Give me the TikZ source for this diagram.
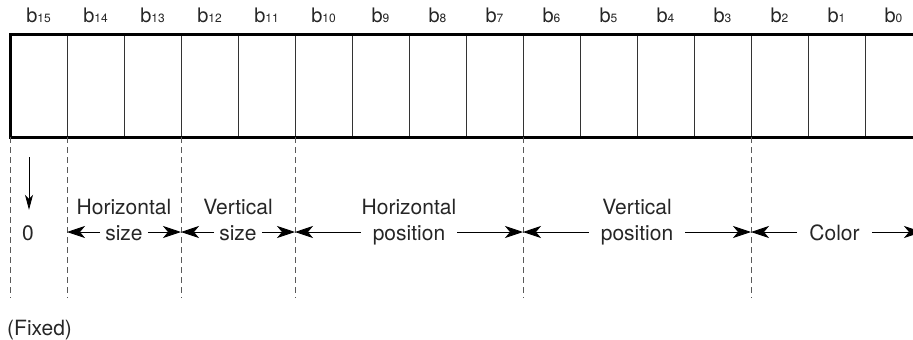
\documentclass[tikz,border=0pt]{standalone}
\usepackage{fontspec}
\setmainfont{TeX Gyre Heros}
\usetikzlibrary{arrows.meta,positioning}

\begin{document}
\begin{tikzpicture}[x=1pt, y=-1pt, >={Stealth[length=18pt,width=12pt,inset=5pt]},
  cell/.style={draw, black!80, line width=0.8pt, minimum width=57pt, minimum height=103pt, inner sep=0pt, outer sep=0pt},
  bitlabel/.style={font=\fontsize{20}{20}\selectfont, text=black!85, inner sep=0pt, anchor=base},
  field/.style={font=\fontsize{21}{21}\selectfont, text=black!85, text height=17pt, text depth=1pt, inner ysep=2pt, inner xsep=12pt},
  narrow/.style={inner xsep=5pt},
  border/.style={dash pattern=on 6pt off 4pt, line width=0.9pt, black!65}]
  \useasboundingbox (0,0) rectangle (913,340);
  \clip (0,0) rectangle (913,340);

  % register cells b15 ... b0
  \foreach \i in {0,...,15}{
    \node[cell] (c\i) at ({38.5+57*(15-\i)}, 85.5) {};
    \node[bitlabel] (l\i) at ([yshift=11pt]c\i.north) {b{\fontsize{12}{12}\selectfont\i}};
  }
  \draw[line width=3pt] (c0.north east) -- (c15.north west) -- (c15.south west) -- (c0.south east);

  % field borders
  \foreach \c in {c15.south west, c14.south west, c12.south west, c10.south west, c6.south west, c2.south west}
    \draw[border] (\c) -- ++(0,161);

  \coordinate (row) at (0,232);

  % fixed bit
  \node[field, narrow] (zero) at (28,232) {0};
  \coordinate (fixtop) at (29,157);
  \draw[->, >={Stealth[length=15pt,width=8pt,inset=4pt]}, line width=0.8pt, shorten >=11pt] (fixtop) -- (zero.north -| fixtop);
  \node[field, anchor=west, inner xsep=0pt] (fixed) at (7,327) {(Fixed)};

  % fields
  \node[field, narrow] (hs2) at (c14.east |- row) {size};
  \node[field, above=3pt of hs2] (hs1) {Horizontal};
  \node[field, narrow] (vs2) at (c12.east |- row) {size};
  \node[field, above=3pt of vs2] (vs1) {Vertical};
  \node[field] (hp2) at (c9.east |- row) {position};
  \node[field, above=3pt of hp2] (hp1) {Horizontal};
  \node[field] (vp2) at (c5.east |- row) {position};
  \node[field, above=3pt of vp2] (vp1) {Vertical};
  \node[field] (col) at ([xshift=-2pt]c1.center |- row) {Color};

  \draw[->, line width=0.8pt] (hs2.west) -- (c14.south west |- row);
  \draw[->, line width=0.8pt] (hs2.east) -- (c12.south west |- row);
  \draw[->, line width=0.8pt] (vs2.west) -- (c12.south west |- row);
  \draw[->, line width=0.8pt] (vs2.east) -- (c10.south west |- row);
  \draw[->, line width=0.8pt] (hp2.west) -- (c10.south west |- row);
  \draw[->, line width=0.8pt] (hp2.east) -- (c6.south west |- row);
  \draw[->, line width=0.8pt] (vp2.west) -- (c6.south west |- row);
  \draw[->, line width=0.8pt] (vp2.east) -- (c2.south west |- row);
  \draw[->, line width=0.8pt] (col.west) -- (c2.south west |- row);
  \draw[->, line width=0.8pt] (col.east) -- (c0.south east |- row);
\end{tikzpicture}
\end{document}
